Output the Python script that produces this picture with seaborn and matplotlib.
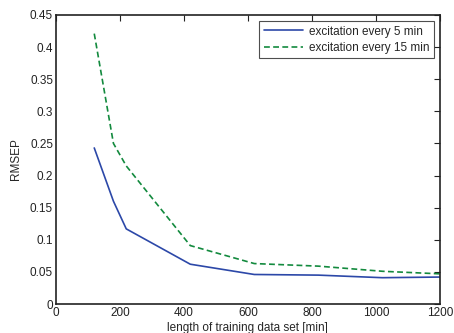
import matplotlib
matplotlib.use("Agg")
import matplotlib.pyplot as plt
import seaborn as sns
import pandas as pd

# === Data ===
train_len = [120, 180, 220, 420, 620, 820, 1020, 1200]
rmsep_5min = [0.243, 0.160, 0.117, 0.062, 0.046, 0.045, 0.041, 0.042]
rmsep_15min = [0.421, 0.250, 0.215, 0.091, 0.063, 0.059, 0.051, 0.047]

x_ticks = [0, 200, 400, 600, 800, 1000, 1200]
y_ticks = [0, 0.05, 0.1, 0.15, 0.2, 0.25, 0.3, 0.35, 0.4, 0.45]
y_ticklabels = ["0", "0.05", "0.1", "0.15", "0.2", "0.25", "0.3", "0.35", "0.4", "0.45"]

sns.set_style("white")
plt.rcParams['font.family'] = ['Liberation Sans', 'DejaVu Sans']

df5 = pd.DataFrame({"len": train_len, "rmsep": rmsep_5min})
df15 = pd.DataFrame({"len": train_len, "rmsep": rmsep_15min})

fig = plt.figure(figsize=(4.54, 3.33), dpi=100)
ax = fig.add_axes([0.123, 0.087, 0.846, 0.868])

sns.lineplot(data=df5, x="len", y="rmsep", ax=ax, color="#2c48a8", lw=1.2,
             label="excitation every 5 min")
sns.lineplot(data=df15, x="len", y="rmsep", ax=ax, color="#138a3e", lw=1.2,
             linestyle=(0, (3.5, 2)), label="excitation every 15 min")

ax.set_xlim(0, 1200)
ax.set_ylim(0, 0.45)
ax.set_xticks(x_ticks)
ax.set_yticks(y_ticks)
ax.set_yticklabels(y_ticklabels)
ax.tick_params(direction="in", length=4, width=0.8, top=True, right=True,
               labelsize=8.5, pad=2, colors="#222222")
for s in ax.spines.values():
    s.set_linewidth(1.2)
    s.set_color("#222222")

ax.set_xlabel("length of training data set [min]", fontsize=8.5, labelpad=2)
ax.set_ylabel("RMSEP", fontsize=8.5, labelpad=6)

leg = ax.legend(loc="upper right", fontsize=8.5, frameon=True, fancybox=False,
                handlelength=3.3, borderpad=0.4, labelspacing=0.35,
                borderaxespad=0.5, handletextpad=0.5)
leg.get_frame().set_edgecolor("#222222")
leg.get_frame().set_linewidth(0.8)

plt.savefig("out.png", dpi=100)
plt.close()
